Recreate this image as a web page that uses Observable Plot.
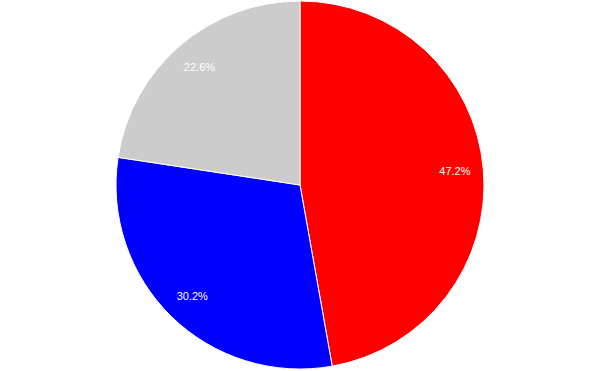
<!DOCTYPE html>
<html>
<head>
<meta charset="utf-8">
<script src="https://cdn.jsdelivr.net/npm/d3@7"></script>
<script src="https://cdn.jsdelivr.net/npm/@observablehq/plot@0.6"></script>
<style>
  html, body { margin: 0; padding: 0; background: #fff; }
</style>
</head>
<body>
<div id="chart"></div>
<script>
const categories = ["A", "B", "C"];
const values = [47.2, 30.2, 22.6];
const colors = ["#ff0000", "#0000ff", "#cccccc"];

const W = 600, H = 371;
const R = 184;         // outer radius in data units (= pixels)
const labelR = 155;    // label radius

const table = categories.map((c, i) => ({category: c, value: values[i], color: colors[i]}));
const arcs = d3.pie().sort(null).value(d => d.value)(table);
const labels = arcs.map(a => {
  const mid = (a.startAngle + a.endAngle) / 2;
  return {x: labelR * Math.sin(mid), y: labelR * Math.cos(mid), text: a.data.value.toFixed(1) + "%"};
});

function pieMark(index, scales, values, dimensions) {
  const cx = scales.x(0), cy = scales.y(0);
  const r = Math.abs(scales.x(R) - scales.x(0));
  const arc = d3.arc().innerRadius(0).outerRadius(r);
  const g = d3.create("svg:g").attr("transform", `translate(${cx},${cy})`);
  g.selectAll("path")
    .data(arcs)
    .join("path")
    .attr("d", arc)
    .attr("fill", d => scales.color(d.data.category))
    .attr("stroke", "#ffffff")
    .attr("stroke-width", 1)
    .attr("stroke-linejoin", "round");
  return g.node();
}

const chart = Plot.plot({
  width: W,
  height: H,
  margin: 0,
  x: {domain: [-300, 300], axis: null},
  y: {domain: [-186, 185], axis: null},
  color: {domain: categories, range: colors},
  style: {fontFamily: "'Liberation Sans', Arial, sans-serif", background: "#fff"},
  marks: [
    pieMark,
    Plot.text(labels, {x: "x", y: "y", text: "text", fill: "#ffffff", fontSize: 11, textAnchor: "middle"})
  ]
});
document.getElementById("chart").appendChild(chart);
</script>
</body>
</html>
